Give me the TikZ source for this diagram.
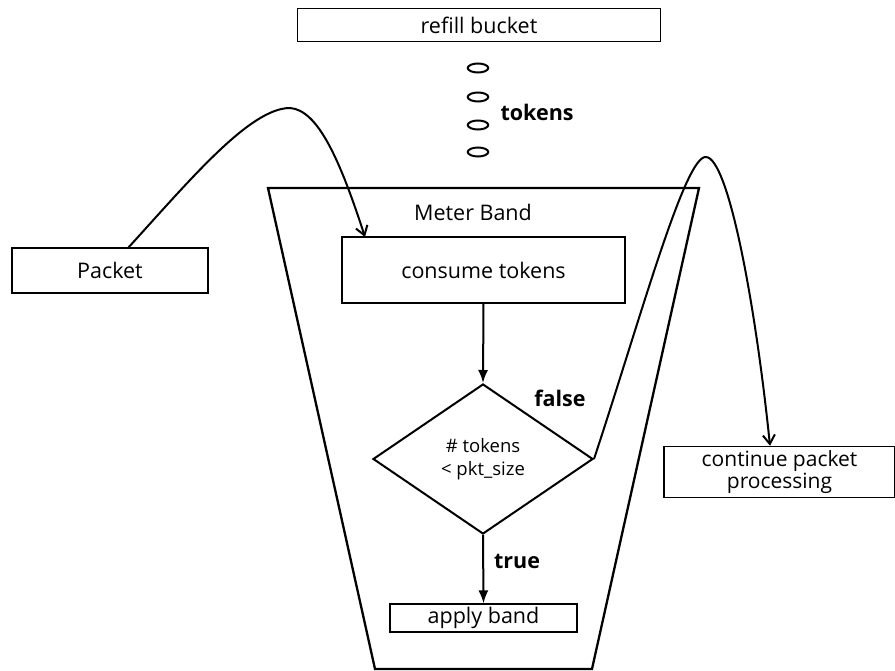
\documentclass[tikz,border=0pt]{standalone}
\usepackage{fontspec}
\setmainfont{Open Sans}
\usetikzlibrary{arrows.meta,shapes.geometric}
\newcommand\tightlines{\lineskiplimit=-100pt\relax\lineskip=0pt\relax}
\tikzset{
  thinbox/.style={draw, line width=1.1pt, inner sep=0pt},
  thickbox/.style={draw, line width=2pt, inner sep=0pt},
  token/.style={draw, ellipse, line width=2pt, minimum width=20.5pt, minimum height=9pt, inner sep=0pt},
  lbl/.style={font=\fontsize{21.5}{24}\selectfont},
  blbl/.style={font=\fontsize{21.5}{24}\selectfont\bfseries},
  flow/.style={line width=2pt, -{Latex[length=13pt,width=10pt]}},
  curv/.style={line width=2pt, -{Straight Barb[length=9pt,width=12pt,line width=2pt]}}
}
\begin{document}
\begin{tikzpicture}[x=1pt,y=-1pt]
\useasboundingbox (0,0) rectangle (895,671);
% bucket
\draw[line width=2.3pt, line join=miter] (268,188) -- (699,188) -- (592,669) -- (375,669) -- cycle;
\node[thinbox, minimum width=363pt, minimum height=33pt, lbl] (refill) at (479,25) {refill bucket};
\node[token] (t1) at (478,68) {};
\node[token] (t2) at (478,97) {};
\node[token] (t3) at (478,125) {};
\node[token] (t4) at (478,152) {};
\node[blbl, anchor=west] (tok) at (497,112) {tokens};
\node[lbl] (meter) at (473,212) {Meter Band};
\node[thinbox, minimum width=283pt, minimum height=66pt, lbl] (consume) at (483.5,270) {consume tokens};
\node[thickbox, minimum width=196pt, minimum height=45pt, lbl] (packet) at (110,270.5) {Packet};
\node[draw, diamond, line width=2pt, aspect=1.4667, minimum width=220pt, minimum height=150pt, inner sep=0pt,
  align=center, font=\fontsize{18.5}{23}\selectfont] (dec) at (483,459) {\# tokens\\< pkt\_size};
\node[thinbox, minimum width=187pt, minimum height=28pt, lbl] (apply) at (483.5,618) {apply band};
\node[draw, line width=1.5pt, minimum width=231pt, minimum height=51pt, inner sep=0pt, align=center,
  font=\fontsize{21}{22}\selectfont\tightlines] (cont) at (779.5,472) {continue packet\\processing};
\node[blbl] (falselbl) at (560,398) {false};
\node[blbl] (truelbl) at (517,561) {true};
% arrows
\draw[flow] (consume.south) -- (dec.north);
\draw[flow] (dec.south) -- (apply.north);
\coordinate (pk) at (128,248);
\coordinate (ct) at (365,237);
\draw[curv] (pk) .. controls (190,180) and (250,108) .. (290,108) .. controls (318,110) and (340,160) .. (ct);
\draw[curv] (dec.east) .. controls (640,320) and (685,155) .. (706,157) .. controls (728,158) and (755,300) .. (cont.north -| 770,0);
\end{tikzpicture}
\end{document}
